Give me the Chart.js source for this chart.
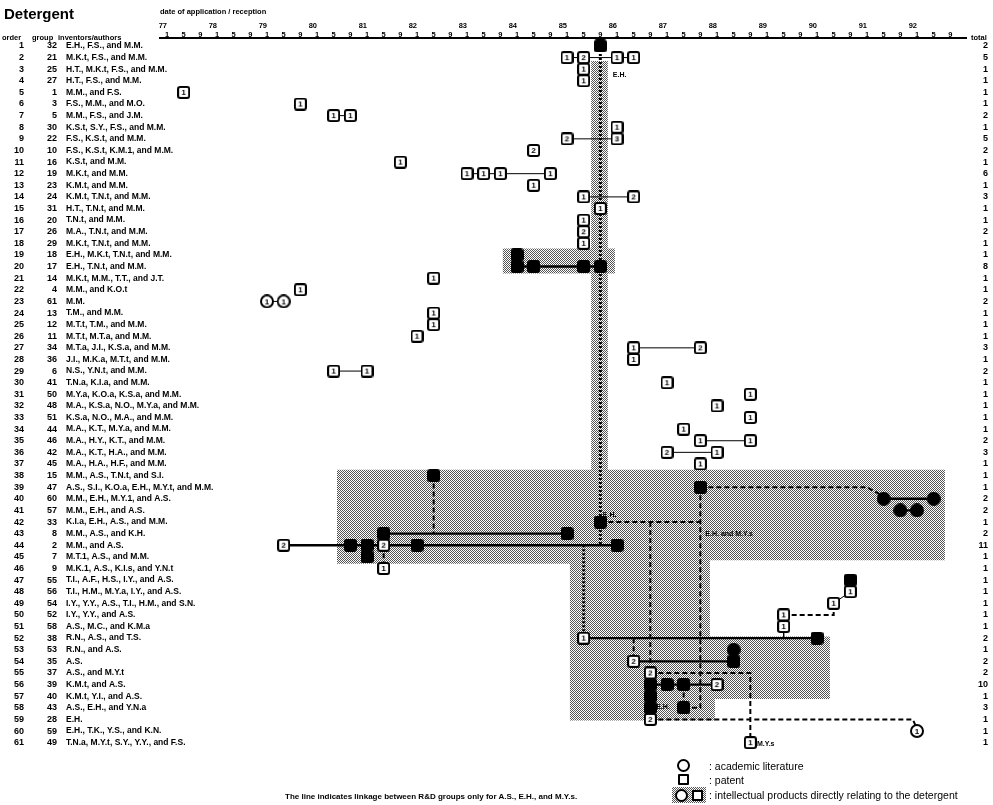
<!DOCTYPE html>
<html>
<head>
<meta charset="utf-8">
<title>Detergent</title>
<script src="https://cdn.jsdelivr.net/npm/chart.js@4.4.0/dist/chart.umd.min.js"></script>
<style>
  body { margin: 0; background: #fff; }
  #wrap { position: relative; width: 993px; height: 805px; font-family: "Liberation Sans", Arial, sans-serif; color: #000; }
  #wrap canvas { position: absolute; left: 0; top: 0; }
  .txt { position: absolute; white-space: nowrap; line-height: 1; pointer-events: none; }
  .b { font-weight: bold; }
  .glyph { position: absolute; box-sizing: border-box; border: 2px solid #000; background: #fff; }
  .shade { position: absolute; background: repeating-conic-gradient(#555 0 25%, #fff 0 50%) 0 0 / 2px 2px; }
</style>
</head>
<body>
<div id="wrap">
  <canvas id="detergent" width="993" height="805"></canvas>
  <div class="txt b" style="left:4px;top:6px;font-size:15px;">Detergent</div>
  <div class="txt b" style="left:2px;top:34px;font-size:7.5px;">order</div>
  <div class="txt b" style="left:32px;top:34px;font-size:7.5px;">group</div>
  <div class="txt b" style="left:58px;top:34px;font-size:7.5px;">inventors/authors</div>
  <div class="txt b" style="left:971px;top:34px;font-size:7.5px;">total</div>

  <div class="glyph" style="left:677px;top:759px;width:13px;height:13px;border-radius:50%;"></div>
  <div class="glyph" style="left:678px;top:774px;width:11px;height:11px;border-radius:1px;"></div>
  <div class="shade" style="left:672px;top:787px;width:34px;height:16px;"></div>
  <div class="glyph" style="left:675px;top:789px;width:13px;height:13px;border-radius:50%;"></div>
  <div class="glyph" style="left:692px;top:790px;width:11px;height:11px;border-radius:1px;"></div>
  <div class="txt" style="left:709px;top:761px;font-size:10.5px;">: academic literature</div>
  <div class="txt" style="left:709px;top:775px;font-size:10.5px;">: patent</div>
  <div class="txt" style="left:709px;top:790px;font-size:10.5px;">: intellectual products directly relating to the detergent</div>
  <div class="txt b" style="left:285px;top:793px;font-size:8px;">The line indicates linkage between R&amp;D groups only for A.S., E.H., and M.Y.s.</div>
</div>

<script>
// axis labels
const yearLabels = ['77','78','79','80','81','82','83','84','85','86','87','88','89','90','91','92'];
const monthLabels = ['1','5','9'];

// rows of the table
const orderNo = [1,2,3,4,5,6,7,8,9,10,11,12,13,14,15,16,17,18,19,20,21,22,23,24,25,26,27,28,29,30,
  31,32,33,34,35,36,37,38,39,40,41,42,43,44,45,46,47,48,49,50,51,52,53,54,55,56,57,58,59,60,61];
const groupNo = [32,21,25,27,1,3,5,30,22,10,16,19,23,24,31,20,26,29,18,17,14,4,61,13,12,11,34,36,6,41,
  50,48,51,44,46,42,45,15,47,60,57,33,8,2,7,9,55,56,54,52,58,38,53,35,37,39,40,43,28,59,49];
const inventors = [
  'E.H., F.S., and M.M.', 'M.K.t, F.S., and M.M.', 'H.T., M.K.t, F.S., and M.M.', 'H.T., F.S., and M.M.',
  'M.M., and F.S.', 'F.S., M.M., and M.O.', 'M.M., F.S., and J.M.', 'K.S.t, S.Y., F.S., and M.M.',
  'F.S., K.S.t, and M.M.', 'F.S., K.S.t, K.M.1, and M.M.', 'K.S.t, and M.M.', 'M.K.t, and M.M.',
  'K.M.t, and M.M.', 'K.M.t, T.N.t, and M.M.', 'H.T., T.N.t, and M.M.', 'T.N.t, and M.M.',
  'M.A., T.N.t, and M.M.', 'M.K.t, T.N.t, and M.M.', 'E.H., M.K.t, T.N.t, and M.M.', 'E.H., T.N.t, and M.M.',
  'M.K.t, M.M., T.T., and J.T.', 'M.M., and K.O.t', 'M.M.', 'T.M., and M.M.',
  'M.T.t, T.M., and M.M.', 'M.T.t, M.T.a, and M.M.', 'M.T.a, J.I., K.S.a, and M.M.', 'J.I., M.K.a, M.T.t, and M.M.',
  'N.S., Y.N.t, and M.M.', 'T.N.a, K.I.a, and M.M.', 'M.Y.a, K.O.a, K.S.a, and M.M.', 'M.A., K.S.a, N.O., M.Y.a, and M.M.',
  'K.S.a, N.O., M.A., and M.M.', 'M.A., K.T., M.Y.a, and M.M.', 'M.A., H.Y., K.T., and M.M.', 'M.A., K.T., H.A., and M.M.',
  'M.A., H.A., H.F., and M.M.', 'M.M., A.S., T.N.t, and S.I.', 'A.S., S.I., K.O.a, E.H., M.Y.t, and M.M.', 'M.M., E.H., M.Y.1, and A.S.',
  'M.M., E.H., and A.S.', 'K.I.a, E.H., A.S., and M.M.', 'M.M., A.S., and K.H.', 'M.M., and A.S.',
  'M.T.1, A.S., and M.M.', 'M.K.1, A.S., K.I.s, and Y.N.t', 'T.I., A.F., H.S., I.Y., and A.S.', 'T.I., H.M., M.Y.a, I.Y., and A.S.',
  'I.Y., Y.Y., A.S., T.I., H.M., and S.N.', 'I.Y., Y.Y., and A.S.', 'A.S., M.C., and K.M.a', 'R.N., A.S., and T.S.',
  'R.N., and A.S.', 'A.S.', 'A.S., and M.Y.t', 'K.M.t, and A.S.',
  'K.M.t, Y.I., and A.S.', 'A.S., E.H., and Y.N.a', 'E.H.', 'E.H., T.K., Y.S., and K.N.',
  'T.N.a, M.Y.t, S.Y., Y.Y., and F.S.'
];
const totals = [2,5,1,1,1,1,2,1,5,2,1,6,1,3,1,1,2,1,1,8,1,1,2,1,1,1,3,1,2,1,
  1,1,1,1,2,3,1,1,1,2,2,1,2,11,1,1,1,1,1,1,1,2,1,2,2,10,1,3,1,1,1];

// patents: [year, month, order, number]
const patents = [
  [85,1,2,1],[85,5,2,2],[86,1,2,1],[86,5,2,1],[85,5,3,1],[85,5,4,1],[77,5,5,1],[79,9,6,1],
  [80,5,7,1],[80,9,7,1],[86,1,8,1],[85,1,9,2],[86,1,9,3],[84,5,10,2],[81,9,11,1],
  [83,1,12,1],[83,5,12,1],[83,9,12,1],[84,9,12,1],[84,5,13,1],[85,5,14,1],[86,5,14,2],
  [85,9,15,1],[85,5,16,1],[85,5,17,2],[85,5,18,1],[82,5,21,1],[79,9,22,1],[82,5,24,1],
  [82,5,25,1],[82,1,26,1],[86,5,27,1],[87,9,27,2],[86,5,28,1],[80,5,29,1],[81,1,29,1],
  [87,1,30,1],[88,9,31,1],[88,1,32,1],[88,9,33,1],[87,5,34,1],[87,9,35,1],[88,9,35,1],
  [87,1,36,2],[88,1,36,1],[87,9,37,1],[79,5,44,2],[81,5,44,2],[81,5,46,1],[90,9,48,1],
  [90,5,49,1],[89,5,50,1],[89,5,51,1],[85,5,52,1],[86,5,54,2],[86,9,55,2],[88,1,56,2],
  [86,9,59,2],[88,9,61,1]
];
// patents directly relating to the detergent: [year, month, order]
const patentsDirect = [
  [85,9,1],[84,1,19],[84,1,20],[84,5,20],[85,5,20],[85,9,20],[82,5,38],[87,9,39],[85,9,42],
  [81,5,43],[85,1,43],[80,9,44],[81,1,44],[82,1,44],[86,1,44],[81,1,45],[90,9,47],[90,1,52],
  [88,5,54],[86,9,56],[87,1,56],[87,5,56],[86,9,57],[86,9,58],[87,5,58]
];
// academic literature
const papers = [[79,1,23,1],[79,5,23,1],[92,1,60,1]];
const papersDirect = [[91,5,40],[92,5,40],[91,9,41],[92,1,41],[88,5,53]];

// same-group chains
const thinLinks = [
  [[85,1,2],[86,5,2]], [[80,5,7],[80,9,7]], [[85,1,9],[86,1,9]], [[83,1,12],[84,9,12]],
  [[85,5,14],[86,5,14]], [[79,1,23],[79,5,23]], [[86,5,27],[87,9,27]], [[80,5,29],[81,1,29]],
  [[87,9,35],[88,9,35]], [[87,1,36],[88,1,36]], [[90,5,49],[90,9,48]], [[89,5,51],[89,5,52]]
];
const thickLinks = [
  [[84,1,20],[85,9,20]], [[91,5,40],[92,5,40]], [[91,9,41],[92,1,41]], [[81,5,43],[85,1,43]],
  [[79,5,44],[86,1,44]], [[85,5,52],[90,1,52]], [[86,5,54],[88,5,54]], [[86,9,56],[88,1,56]]
];
// linkage between groups
const dashedLinks = [
  [[82,5,38],[82,5,43]], [[81,5,44],[81,5,46]], [[87,9,39],[91,1,39],[91,5,39.8]],
  [[85,9,42],[87,9,42]], [[86,9,42],[86,9,55]], [[87,9,39],[87,9,58],[87,5,58]],
  [[86,5,52],[86,5,54]], [[86,9,55],[88,9,55],[88,9,61]], [[87,5,56],[87,5,58]],
  [[86,9,59],[91,12,59],[92,1,59.8]], [[89,5,50],[90,5,50],[90,5,49]]
];
const ehTrace = [
  [[85,9,1],[85,9,44]], [[85,5,44],[85,5,52]], [[86,9,58],[86,9,59]]
];
// areas of products directly relating to the detergent
const directAreas = [
  [[85,6.8,2.3],[85,10.8,2.3],[85,10.8,37.6],[85,6.8,37.6]],
  [[83,9.6,18.45],[85,12.5,18.45],[85,12.5,20.6],[83,9.6,20.6]],
  [[80,5.8,37.5],[92,7.7,37.5],[92,7.7,45.3],[87,11.3,45.3],[87,11.3,51.85],[90,4.1,51.85],
   [90,4.1,57.25],[87,12.5,57.25],[87,12.5,59.1],[85,1.7,59.1],[85,1.7,45.6],[80,5.8,45.6]]
];
const notes = [
  ['E.H.', 85, 12, 3.5], ['E.H.', 85, 9.6, 41.4], ['E.H. and M.Y.s', 87, 10.2, 43.0],
  ['E.H.', 86, 10.4, 57.9], ['M.Y.s', 88, 10.6, 61.1]
];

const monthIndex = (yy, mm) => (yy - 77) * 12 + (mm - 1);
const rowMin = 0.315, rowMax = 65.13;

// little marker pictures
function makeMark(shape, filled, text) {
  const s = shape === 'circle' ? 14 : 13;
  const c = document.createElement('canvas');
  c.width = s; c.height = s;
  const g = c.getContext('2d');
  g.lineWidth = 2;
  g.strokeStyle = '#000';
  g.fillStyle = filled ? '#000' : '#fff';
  g.beginPath();
  if (shape === 'circle') g.arc(s / 2, s / 2, s / 2 - 1, 0, Math.PI * 2);
  else if (g.roundRect) g.roundRect(1, 1, s - 2, s - 2, 2);
  else g.rect(1, 1, s - 2, s - 2);
  g.fill();
  g.stroke();
  if (text) {
    g.fillStyle = '#000';
    g.font = 'bold 8px "Liberation Sans"';
    g.textAlign = 'center';
    g.textBaseline = 'middle';
    g.fillText(text, s / 2, s / 2 + 0.5);
  }
  return c;
}

function stipple() {
  const c = document.createElement('canvas');
  c.width = 2; c.height = 2;
  const g = c.getContext('2d');
  g.fillStyle = '#fff'; g.fillRect(0, 0, 2, 2);
  g.fillStyle = '#555'; g.fillRect(0, 0, 1, 1); g.fillRect(1, 1, 1, 1);
  return g.createPattern(c, 'repeat');
}

const toPoints = list => list.map(p => ({x: monthIndex(p[0], p[1]), y: p[2]}));
function pathData(paths) {
  const out = [];
  paths.forEach(path => {
    path.forEach(p => out.push({x: monthIndex(p[0], p[1]), y: p[2]}));
    out.push({x: monthIndex(path[0][0], path[0][1]), y: null});
  });
  return out;
}
const lineSet = (paths, width, dash) => ({
  data: pathData(paths), showLine: true, pointRadius: 0, borderColor: '#000',
  borderWidth: width, borderDash: dash, order: 2
});

const shade = stipple();
const datasets = [
  {data: toPoints(patents), pointStyle: patents.map(p => makeMark('box', false, String(p[3]))), pointRadius: 6, order: 0},
  {data: toPoints(patentsDirect), pointStyle: makeMark('box', true), pointRadius: 6, order: 0},
  {data: toPoints(papers), pointStyle: papers.map(p => makeMark('circle', false, String(p[3]))), pointRadius: 6, order: 0},
  {data: toPoints(papersDirect), pointStyle: makeMark('circle', true), pointRadius: 6, order: 0},
  lineSet(thinLinks, 1, []),
  lineSet(thickLinks, 2.4, []),
  lineSet(dashedLinks, 2, [5, 3]),
  lineSet(ehTrace, 3, [2, 2])
];
directAreas.forEach(area => datasets.push({
  type: 'line', data: toPoints(area.concat([area[0]])), fill: 'shape', backgroundColor: shade,
  borderWidth: 0, pointRadius: 0, tension: 0, order: 3
}));

const notePlugin = {
  id: 'notes',
  afterDatasetsDraw(chart) {
    const {ctx, scales} = chart;
    ctx.save();
    ctx.font = 'bold 7px "Liberation Sans"';
    ctx.fillStyle = '#000';
    ctx.textBaseline = 'middle';
    notes.forEach(([text, yy, mm, row]) => {
      ctx.fillText(text, scales.x.getPixelForValue(monthIndex(yy, mm)), scales.y.getPixelForValue(row));
    });
    ctx.restore();
  }
};

// mirror is used for the names so that long ones can run into the empty plot area
const rowAxis = (position, weight, width, padding, crossAlign, labels, mirror) => ({
  type: 'linear', position: position, weight: weight, reverse: true, min: rowMin, max: rowMax,
  grid: {display: false, drawTicks: false}, border: {display: false},
  afterBuildTicks: s => { s.ticks = orderNo.map(v => ({value: v})); },
  afterFit: s => { s.width = width; },
  ticks: {autoSkip: false, padding: padding, crossAlign: crossAlign, mirror: !!mirror, color: '#000',
    font: {size: labels === inventors ? 8.5 : 9, weight: 'bold'},
    callback: (v, i) => labels[i]}
});

Chart.defaults.font.family = '"Liberation Sans", Arial, sans-serif';
Chart.defaults.color = '#000';

new Chart(document.getElementById('detergent'), {
  type: 'scatter',
  data: {datasets: datasets},
  plugins: [notePlugin],
  options: {
    responsive: false,
    animation: false,
    layout: {padding: {top: 8, right: 5, bottom: 10, left: 0}},
    plugins: {legend: {display: false}, tooltip: {enabled: false}},
    scales: {
      x: {
        type: 'linear', position: 'top', weight: 1, min: -1.68, max: 191.76,
        grid: {display: false, drawTicks: false}, border: {display: true, color: '#000', width: 2},
        afterBuildTicks: s => { s.ticks = []; yearLabels.forEach((y, i) => monthLabels.forEach((m, j) => s.ticks.push({value: i * 12 + j * 4}))); },
        afterFit: s => { s.height = 8; },
        ticks: {autoSkip: false, maxRotation: 0, padding: -1, font: {size: 7.5, weight: 'bold', lineHeight: 1},
          callback: (v, i) => monthLabels[i % 3]}
      },
      xYear: {
        type: 'linear', position: 'top', weight: 2, min: -1.68, max: 191.76,
        grid: {display: false, drawTicks: false}, border: {display: false},
        afterBuildTicks: s => { s.ticks = yearLabels.map((y, i) => ({value: i * 12})); },
        afterFit: s => { s.height = 22; },
        title: {display: true, text: 'date of application / reception', align: 'start', padding: 0,
          font: {size: 7.5, weight: 'bold', lineHeight: 1}},
        ticks: {autoSkip: false, maxRotation: 0, padding: 0, align: 'end', font: {size: 7.5, weight: 'bold', lineHeight: 1},
          callback: (v, i) => yearLabels[i]}
      },
      y: rowAxis('left', 1, 94, -94, 'near', inventors, true),
      yGroup: rowAxis('left', 2, 40, 9, 'near', groupNo),
      yOrder: rowAxis('left', 3, 26, 2, 'near', orderNo),
      yTotal: rowAxis('right', 1, 22, 0, 'far', totals)
    }
  }
});
</script>
</body>
</html>
